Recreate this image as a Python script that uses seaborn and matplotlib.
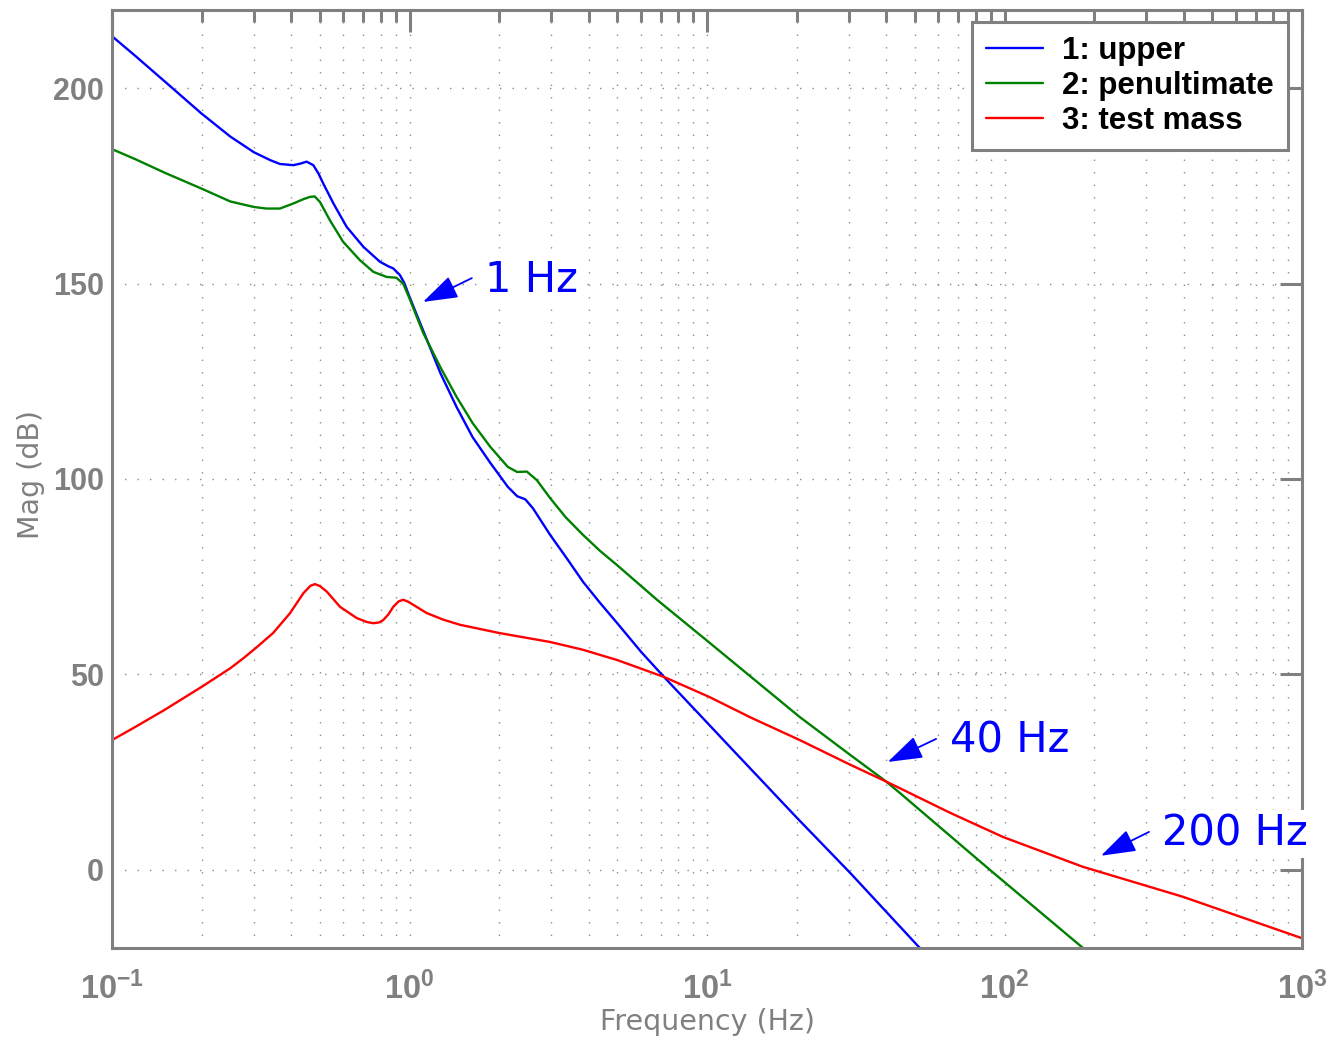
import numpy as np
import pandas as pd
import seaborn as sns
import matplotlib
matplotlib.use('Agg')
import matplotlib.pyplot as plt
from matplotlib.lines import Line2D
from matplotlib.ticker import LogLocator, FuncFormatter, NullFormatter

# values (freq in Hz, magnitude in dB)
freq_upper = [0.1, 0.12, 0.15, 0.2, 0.25, 0.3, 0.34, 0.367, 0.407, 0.43, 0.451, 0.475, 0.494, 0.513,
              0.555, 0.615, 0.70, 0.795, 0.85, 0.881, 0.928, 0.96, 1.0, 1.11, 1.27, 1.44, 1.63, 1.87,
              2.14, 2.3, 2.45, 2.6, 2.97, 3.4, 3.83, 4.37, 4.98, 6.0, 7.2, 9.47, 12.2, 20.0, 30.3,
              51.2, 60]
mag_upper = [213.3, 208.2, 201.8, 193.5, 187.6, 183.6, 181.6, 180.6, 180.3, 180.7, 181.2, 180.3, 178.2, 175.6,
             170.5, 164.5, 159.4, 155.6, 154.4, 153.9, 152.2, 150.2, 146.6, 138.1, 127.1, 118.4, 110.7, 104.1,
             98.0, 95.6, 94.8, 92.5, 85.7, 79.4, 73.7, 68.3, 63.2, 55.8, 49.2, 39.6, 30.7, 13.4, -0.8,
             -19.5, -25.0]

freq_penult = [0.1, 0.12, 0.15, 0.2, 0.25, 0.3, 0.33, 0.367, 0.407, 0.44, 0.464, 0.48, 0.5, 0.54, 0.598,
               0.681, 0.756, 0.838, 0.903, 0.952, 1.0, 1.11, 1.27, 1.44, 1.63, 1.87, 2.14, 2.3, 2.48,
               2.68, 2.97, 3.35, 3.83, 4.37, 4.98, 6.79, 10.2, 20.5, 30.3, 40.0, 44.6, 89.3, 183.6, 200]
mag_penult = [184.4, 181.8, 178.4, 174.3, 171.0, 169.6, 169.2, 169.2, 170.5, 171.6, 172.2, 172.3, 170.9, 166.2,
              160.7, 156.0, 153.0, 151.7, 151.5, 150.0, 146.2, 137.5, 128.6, 121.0, 114.3, 108.2, 103.1,
              101.8, 101.9, 99.7, 95.1, 90.2, 85.7, 81.6, 78.0, 69.1, 58.1, 39.1, 29.4, 22.6, 19.6, 0.0,
              -20.0, -22.5]

freq_test = [0.1, 0.12, 0.15, 0.2, 0.25, 0.275, 0.306, 0.348, 0.396, 0.44, 0.465, 0.481, 0.5, 0.527,
             0.584, 0.665, 0.72, 0.756, 0.79, 0.816, 0.85, 0.882, 0.92, 0.953, 0.99, 1.03, 1.142, 1.3,
             1.478, 2.0, 2.97, 3.83, 4.98, 7.2, 10.2, 14.0, 20.5, 30.3, 40.0, 65.6, 98.9, 183, 398, 1000]
mag_test = [33.2, 36.6, 40.9, 46.8, 51.6, 54.0, 56.9, 60.6, 65.6, 70.8, 72.7, 73.1, 72.6, 71.2,
            67.3, 64.4, 63.4, 63.1, 63.3, 63.9, 65.4, 67.3, 68.7, 69.1, 68.6, 67.8, 65.7, 64.0,
            62.7, 60.6, 58.3, 56.3, 53.7, 49.3, 44.2, 39.0, 33.2, 26.9, 22.6, 14.6, 8.4, 0.8, -6.9, -17.5]

series_names = ['1: upper', '2: penultimate', '3: test mass']
colors = ['#0000ff', '#008000', '#ff0000']
yticks = [0, 50, 100, 150, 200]

annot_text = ['1 Hz', '40 Hz', '200 Hz']
annot_tip = [(1.11, 145.3), (40.5, 27.6), (211, 3.6)]
annot_tail = [(1.62, 151.4), (58.9, 33.5), (306, 9.7)]
annot_pos = [(1.794, 147.9), (65.6, 30.0), (338, 6.2)]

df = pd.concat([
    pd.DataFrame({'freq': freq_upper, 'mag': mag_upper, 'series': series_names[0]}),
    pd.DataFrame({'freq': freq_penult, 'mag': mag_penult, 'series': series_names[1]}),
    pd.DataFrame({'freq': freq_test, 'mag': mag_test, 'series': series_names[2]}),
], ignore_index=True)

sns.set_style('white')
plt.rcParams['font.family'] = ['Liberation Sans', 'DejaVu Sans']
plt.rcParams['mathtext.fontset'] = 'custom'
plt.rcParams['mathtext.rm'] = 'Liberation Sans'
plt.rcParams['mathtext.bf'] = 'Liberation Sans:bold'
plt.rcParams['mathtext.default'] = 'bf'

gray = '#808080'

fig = plt.figure(figsize=(13.29, 10.44), dpi=100)
ax = fig.add_axes([112 / 1329, 96 / 1044, 1190 / 1329, 938 / 1044])

sns.lineplot(data=df, x='freq', y='mag', hue='series', palette=dict(zip(series_names, colors)),
             estimator=None, sort=False, lw=1.7, legend=False, ax=ax)

ax.set_xscale('log')
ax.set_xlim(0.1, 1000)
ax.set_ylim(-20, 220)
ax.set_yticks(yticks)
ax.xaxis.set_major_locator(LogLocator(base=10, numticks=10))
ax.xaxis.set_minor_locator(LogLocator(base=10, subs=np.arange(2, 10), numticks=100))
ax.xaxis.set_minor_formatter(NullFormatter())
ax.xaxis.set_major_formatter(FuncFormatter(lambda v, p: r'$\mathbf{10^{%d}}$' % int(round(np.log10(v)))))

# matlab style dotted grid
ax.grid(True, which='both', axis='x', color='#8c8c8c', ls=(0, (1, 8)), lw=1)
ax.grid(True, which='major', axis='y', color='#8c8c8c', ls=(0, (1, 8)), lw=1)
ax.set_axisbelow(True)

ax.tick_params(which='both', direction='in', top=True, right=True, color=gray, width=2.2,
               labelcolor=gray)
ax.tick_params(which='major', length=16)
ax.tick_params(which='minor', length=8.5)
ax.tick_params(axis='x', pad=17, labelsize=23.5)
ax.tick_params(axis='y', pad=6, labelsize=22)
for t in ax.get_yticklabels():
    t.set_fontweight('bold')
for s in ax.spines.values():
    s.set_color(gray)
    s.set_linewidth(2.2)

ax.set_xlabel('Frequency (Hz)', fontsize=20.5, color=gray, family='DejaVu Sans')
ax.set_ylabel('Mag (dB)', fontsize=20.5, color=gray, family='DejaVu Sans')
ax.xaxis.set_label_coords(0.5, -0.064)
ax.yaxis.set_label_coords(-0.056, 0.505)

handles = [Line2D([], [], color=c, lw=1.7) for c in colors]
leg = ax.legend(handles, series_names, loc='upper right', bbox_to_anchor=(0.988, 0.987),
                borderaxespad=0, fancybox=False, framealpha=1, edgecolor=gray,
                prop={'weight': 'bold', 'size': 22.5}, handlelength=1.8, handletextpad=0.62,
                labelspacing=0.15, borderpad=0.45)
leg.get_frame().set_linewidth(2.2)
for t in leg.get_texts():
    t.set_color('black')

for txt, tip, tail, pos in zip(annot_text, annot_tip, annot_tail, annot_pos):
    ax.annotate('', xy=tip, xytext=tail,
                arrowprops=dict(arrowstyle='-|>,head_length=1.2,head_width=0.4', color='blue',
                                lw=1.3, mutation_scale=18, shrinkA=0, shrinkB=0))
    ax.text(pos[0], pos[1], txt, color='blue', fontsize=30, family='DejaVu Sans',
            ha='left', va='baseline', zorder=4, clip_on=False,
            bbox=dict(facecolor='white', edgecolor='none', pad=2))

fig.savefig('out.png', dpi=100, facecolor='white')
